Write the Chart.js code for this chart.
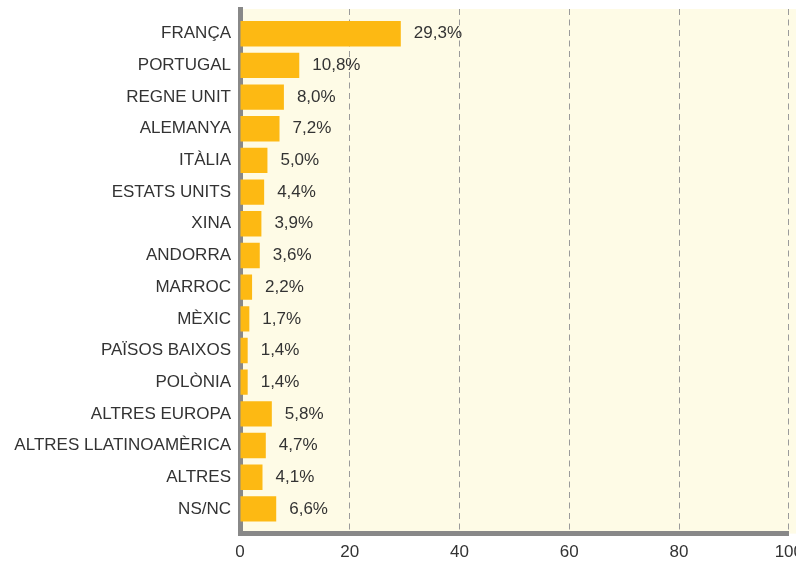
<!DOCTYPE html>
<html>
<head>
<meta charset="utf-8">
<script src="https://cdn.jsdelivr.net/npm/chart.js@4"></script>
<style>
  body { margin: 0; overflow: hidden; background: #fff; }
</style>
</head>
<body>
<canvas id="chart" width="812" height="572"></canvas>
<script>
const countries = ["FRANÇA", "PORTUGAL", "REGNE UNIT", "ALEMANYA", "ITÀLIA", "ESTATS UNITS", "XINA",
  "ANDORRA", "MARROC", "MÈXIC", "PAÏSOS BAIXOS", "POLÒNIA", "ALTRES EUROPA",
  "ALTRES LLATINOAMÈRICA", "ALTRES", "NS/NC"];
const shares = [29.3, 10.8, 8.0, 7.2, 5.0, 4.4, 3.9, 3.6, 2.2, 1.7, 1.4, 1.4, 5.8, 4.7, 4.1, 6.6];
const xTicks = [0, 20, 40, 60, 80, 100];

const FONT = { family: "'Liberation Sans Narrow', 'Liberation Sans', Arial, sans-serif", size: 17 };

// light yellow plot background
const plotBg = {
  id: 'plotBg',
  beforeDraw(chart) {
    const { ctx, chartArea: a } = chart;
    ctx.save();
    ctx.fillStyle = '#fefbe6';
    ctx.fillRect(a.left, a.top, chart.width - a.left, a.bottom - a.top);
    ctx.restore();
  }
};

// value labels after each bar
const valueLabels = {
  id: 'valueLabels',
  afterDatasetsDraw(chart) {
    const { ctx } = chart;
    const meta = chart.getDatasetMeta(0);
    ctx.save();
    ctx.font = FONT.size + 'px ' + FONT.family;
    ctx.fillStyle = '#333';
    ctx.textBaseline = 'middle';
    meta.data.forEach((bar, i) => {
      ctx.fillText(shares[i].toFixed(1).replace('.', ',') + '%', bar.x + 13, bar.y);
    });
    ctx.restore();
  }
};

new Chart(document.getElementById('chart'), {
  type: 'bar',
  data: {
    labels: countries,
    datasets: [{
      data: shares,
      backgroundColor: '#fdb913',
      barPercentage: 0.8,
      categoryPercentage: 1
    }]
  },
  options: {
    indexAxis: 'y',
    responsive: false,
    animation: false,
    layout: { padding: { top: 9, right: 0, bottom: 0, left: 0 } },
    plugins: { legend: { display: false }, tooltip: { enabled: false } },
    scales: {
      x: {
        min: 0,
        max: 100,
        afterBuildTicks: s => { s.ticks = xTicks.map(v => ({ value: v })); },
        grid: {
          color: c => c.tick && c.tick.value === 0 ? 'rgba(0,0,0,0)' : '#9a9a9a',
          lineWidth: 1,
          drawTicks: false
        },
        border: { display: true, width: 5, color: '#888', dash: [6, 4.5] },
        ticks: { color: '#333', font: FONT, padding: 9 }
      },
      y: {
        z: 1,
        // leave a little room above the first and below the last bar
        afterBuildTicks: s => { s._startValue -= 0.28; s._valueRange += 0.56; },
        afterFit: s => { s.width = 240; s.paddingTop = 0; s.paddingBottom = 0; },
        grid: { display: false, drawTicks: false },
        border: { display: true, width: 5, color: '#888' },
        ticks: { color: '#333', font: FONT, padding: 9 }
      }
    }
  },
  plugins: [plotBg, valueLabels]
});
</script>
</body>
</html>
